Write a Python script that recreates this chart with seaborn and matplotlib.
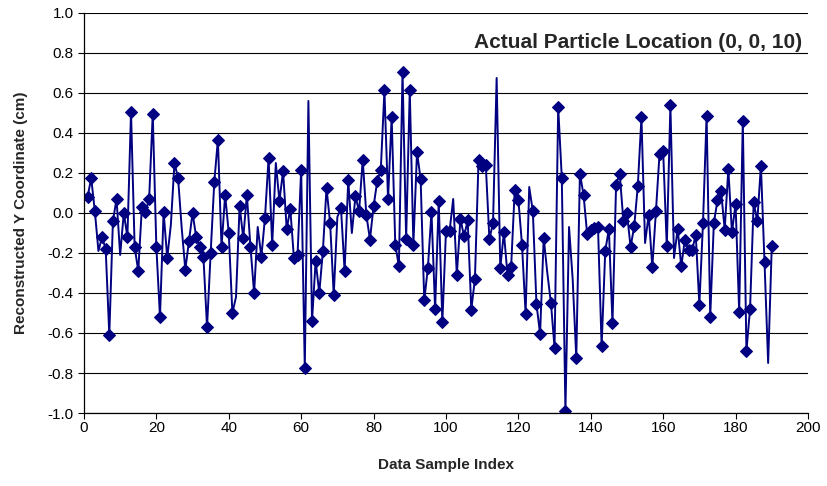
import numpy as np
import pandas as pd
import matplotlib
matplotlib.use('Agg')
import matplotlib.pyplot as plt
import seaborn as sns

# data (sample index 1..190)
sample_index = list(range(1, 191))
y_coord = [
    0.08, 0.175, 0.01, -0.19, -0.12, -0.18, -0.61, -0.04, 0.07, -0.21,
    0.0, -0.12, 0.505, -0.17, -0.29, 0.03, 0.005, 0.07, 0.495, -0.17,
    -0.52, 0.005, -0.225, -0.06, 0.25, 0.175, -0.075, -0.283, -0.14, 0.0,
    -0.12, -0.17, -0.22, -0.57, -0.2, 0.155, 0.367, -0.17, 0.09, -0.1,
    -0.50, -0.42, 0.035, -0.125, 0.09, -0.17, -0.40, -0.07, -0.22, -0.025,
    0.275, -0.16, 0.25, 0.06, 0.21, -0.08, 0.02, -0.225, -0.21, 0.215,
    -0.775, 0.56, -0.54, -0.24, -0.40, -0.19, 0.125, -0.05, -0.41, -0.02,
    0.025, -0.29, 0.163, -0.10, 0.083, 0.008, 0.267, -0.008, -0.133, 0.033,
    0.158, 0.217, 0.613, 0.07, 0.48, -0.158, -0.267, 0.705, -0.13, 0.613,
    -0.158, 0.303, 0.17, -0.437, -0.275, 0.005, -0.48, 0.058, -0.547, -0.092,
    -0.09, 0.07, -0.31, -0.03, -0.117, -0.037, -0.483, -0.33, 0.265, 0.235,
    0.24, -0.13, -0.05, 0.675, -0.275, -0.097, -0.31, -0.27, 0.117, 0.067,
    -0.158, -0.503, 0.13, 0.008, -0.455, -0.605, -0.125, -0.30, -0.45, -0.675,
    0.53, 0.175, -0.99, -0.07, -0.33, -0.725, 0.197, 0.092, -0.105, -0.083,
    -0.075, -0.07, -0.667, -0.19, -0.08, -0.55, 0.142, 0.197, -0.038, 0.0,
    -0.17, -0.067, 0.137, 0.478, -0.15, -0.008, -0.27, 0.008, 0.297, 0.308,
    -0.167, 0.538, -0.225, -0.078, -0.267, -0.133, -0.187, -0.187, -0.108, -0.458,
    -0.05, 0.487, -0.52, -0.05, 0.063, 0.108, -0.083, 0.22, -0.097, 0.045,
    -0.495, 0.462, -0.69, -0.48, 0.053, -0.042, 0.237, -0.247, -0.75, -0.167,
]
# samples drawn without a marker in the reference
no_marker = [4, 10, 24, 27, 42, 48, 53, 62, 70, 74, 102, 114, 123, 128, 134, 135, 155, 163, 189]

x_ticks = list(range(0, 201, 20))
y_ticks = [round(v, 1) + 0.0 for v in np.arange(-1.0, 1.01, 0.2)]

df = pd.DataFrame({'index': sample_index, 'y': y_coord})
marked = [k for k, i in enumerate(sample_index) if i not in no_marker]

sns.set_style('white')
plt.rcParams['font.family'] = ['Liberation Sans', 'DejaVu Sans']

fig = plt.figure(figsize=(8.28, 4.86), dpi=100)
ax = fig.add_axes([0.1014, 0.1502, 0.8744, 0.8231])

sns.lineplot(data=df, x='index', y='y', ax=ax, color='#000080', linewidth=1.4,
             marker='D', markersize=6.5, markeredgecolor='#000080', markevery=marked)

ax.set_xlim(0, 200)
ax.set_ylim(-1.0, 1.0)
ax.set_xticks(x_ticks)
ax.set_yticks(y_ticks)
ax.set_yticklabels(['0.0' if abs(v) < 1e-9 else f'{v:.1f}' for v in y_ticks])
ax.tick_params(axis='both', labelsize=11, direction='out', length=4, width=0.8,
               bottom=True, left=True, colors='black')
ax.tick_params(axis='x', pad=2)
ax.yaxis.grid(True, color='black', linewidth=0.8)
ax.xaxis.grid(False)
ax.set_axisbelow(True)
for side in ['top', 'right']:
    ax.spines[side].set_visible(False)
for side in ['left', 'bottom']:
    ax.spines[side].set_color('black')
    ax.spines[side].set_linewidth(0.9)

ax.set_xlabel('Data Sample Index', fontsize=11, fontweight='bold', labelpad=16)
ax.set_ylabel('Reconstructed Y Coordinate (cm)', fontsize=11, fontweight='bold', labelpad=14)
ax.text(198.5, 0.85, 'Actual Particle Location (0, 0, 10)', ha='right', va='center',
        fontsize=15, fontweight='bold')

fig.savefig('out.png', dpi=100)
